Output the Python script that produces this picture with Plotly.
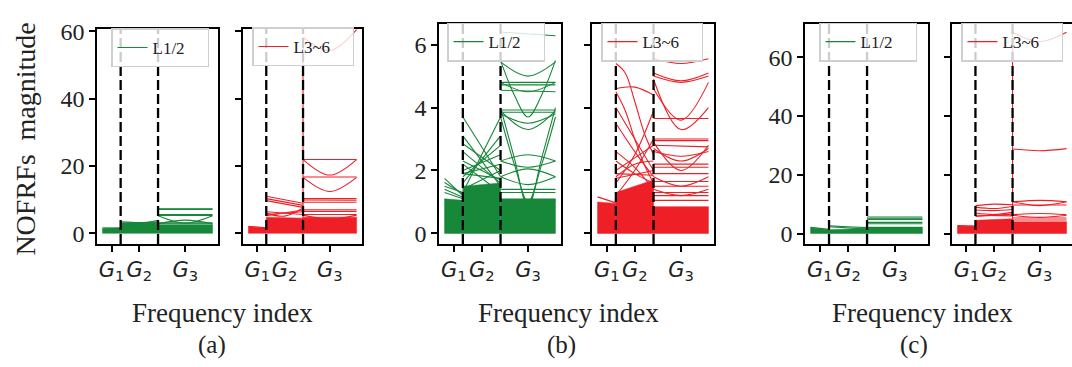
import plotly.graph_objects as go

# ---------------- data ----------------
# frequency-index regions: G1, G2, G3 (edges), tick centers and labels
REGION_EDGES = [0, 16.5, 50.5, 100]
TICK_POS = [8.25, 33.5, 75.25]
TICK_TEXT = ["<i>G</i><sub>1</sub>", "<i>G</i><sub>2</sub>", "<i>G</i><sub>3</sub>"]
SERIES_NAMES = ["L1/2", "L3~6"]

# Each line: values evenly spaced across its region. Each band: top edge (start, end), bottom at 0.
# ---- (a) L1/2
A1_G1_BAND = [1.4, 1.7]
A1_G1_LINES = [[1.6, 1.5]]
A1_G2_BAND = [3.1, 3.3]
A1_G2_LINES = [[1.6, 3.9], [3.4, 3.2, 3.4], [2.6, 2.9]]
A1_G3_BAND = [2.5, 2.5]
A1_G3_LINES = [[7.3, 7.3], [7.1, 7.1], [5.6, 5.6], [5.3, 5.3], [5.2, 3.0, 5.2],
               [2.8, 3.9, 2.8], [3.1, 3.1], [2.8, 2.8]]
# ---- (a) L3~6
A2_G1_BAND = [2.0, 1.6]
A2_G1_LINES = [[2.1, 1.6]]
A2_G2_BAND = [4.8, 4.5]
A2_G2_LINES = [[11.0, 8.9], [10.3, 8.3], [9.7, 7.7], [6.0, 5.1, 7.5], [5.6, 6.4],
               [5.2, 6.9], [6.4, 5.6]]
A2_G3_BAND = [4.8, 4.8]
A2_G3_LINES = [[21.9, 21.9], [21.9, 17.3, 21.9], [16.7, 16.7], [16.6, 12.4, 16.6],
               [10.3, 10.3], [9.9, 9.8], [9.2, 9.2], [7.0, 7.0], [6.5, 6.5],
               [5.6, 5.6], [5.4, 4.2, 5.4], [58.2, 54.3, 60.5]]
A2_JUMP = [2.0, 58.2]
# ---- (b) L1/2
B1_G1_BAND = [1.1, 1.05]
B1_G1_LINES = [[1.75, 1.2], [1.62, 1.25], [1.5, 1.3], [1.4, 1.15], [1.3, 1.1]]
B1_G2_BAND = [1.5, 1.6]
B1_G2_LINES = [[3.7, 1.8], [3.1, 1.5], [2.85, 2.0], [2.6, 1.6], [2.2, 1.3],
               [1.3, 3.7], [1.6, 3.1], [1.8, 2.8], [2.0, 2.5], [1.9, 2.2],
               [1.4, 2.0], [2.3, 1.7], [1.9, 1.75]]
B1_G3_BAND = [1.1, 1.1]
B1_G3_LINES = [[6.4, 6.28], [5.5, 4.4, 3.7, 4.4, 5.5], [5.45, 5.0, 5.45],
               [4.8, 4.8], [4.72, 4.72], [4.55, 4.5], [4.8, 4.5, 4.8],
               [3.92, 3.92], [3.85, 3.85], [3.9, 3.3, 3.9], [3.8, 3.5, 3.8],
               [4.0, 2.4, 0.85, 2.4, 4.0], [3.7, 2.2, 1.0, 2.2, 3.7],
               [2.3, 2.5, 2.3], [2.3, 2.1, 2.3], [1.8, 2.05, 1.8], [1.8, 1.55, 1.8],
               [1.4, 1.4], [1.3, 1.3], [1.05, 0.85, 1.05]]
# ---- (b) L3~6
B2_G1_BAND = [1.0, 0.95]
B2_G1_LINES = [[1.16, 0.97]]
B2_G2_BAND = [1.3, 1.7]
B2_G2_LINES = [[5.4, 5.1, 4.2, 3.2, 2.5], [4.6, 4.65, 4.4], [4.5, 3.9, 3.0, 2.2, 1.6],
               [4.0, 3.0, 2.0], [3.5, 2.6, 1.8], [1.6, 2.5, 3.9], [1.2, 2.0, 3.0],
               [2.0, 2.4, 2.8], [2.3, 1.9, 1.6], [2.6, 2.1, 1.4], [1.8, 2.2, 2.3],
               [1.9, 1.85], [1.75, 2.0]]
B2_G3_BAND = [0.85, 0.85]
B2_G3_LINES = [[5.55, 5.4, 5.55], [5.1, 4.85, 5.1], [5.0, 4.8, 5.0], [4.9, 3.3, 4.0],
               [4.6, 3.6, 4.8], [3.65, 3.65], [3.0, 3.0], [2.95, 2.95], [2.8, 2.75],
               [2.9, 2.0, 2.8], [2.7, 2.3, 2.7], [2.6, 2.45, 2.6], [2.2, 2.2],
               [2.1, 2.1], [1.9, 1.9], [1.8, 1.5, 1.8], [1.65, 1.65], [1.5, 1.5],
               [1.4, 1.2, 1.4], [1.3, 1.3], [1.2, 1.2], [1.05, 1.05]]
# ---- (c) L1/2
C1_G1_BAND = [2.0, 1.3]
C1_G1_LINES = [[2.1, 1.4]]
C1_G2_BAND = [1.3, 1.7]
C1_G2_LINES = [[2.6, 2.3, 2.0], [2.3, 1.5]]
C1_G3_BAND = [2.2, 2.2]
C1_G3_LINES = [[5.6, 5.6], [5.2, 5.2], [4.8, 4.8], [3.8, 3.8], [3.3, 3.3]]
# ---- (c) L3~6
C2_G1_BAND = [2.6, 2.5]
C2_G1_LINES = [[2.7, 2.5]]
C2_G2_BAND = [4.5, 5.0]
C2_G2_LINES = [[9.5, 10.0, 9.8], [9.0, 8.5, 9.2], [8.0, 7.8, 8.2], [7.0, 6.5, 7.2],
               [6.2, 6.0], [5.8, 6.6]]
C2_G3_BAND = [4.0, 4.0]
C2_G3_LINES = [[68.5, 65.3, 68.5], [28.8, 28.2, 28.9], [10.8, 11.3, 10.8],
               [10.8, 9.5, 10.8], [9.7, 9.7], [6.4, 6.8, 6.4], [6.2, 5.5, 6.2],
               [5.3, 5.3], [4.6, 4.6]]
C2_JUMP = [4.0, 68.5]

Y_RANGES = {"a": [-3.2, 60.7], "b": [-0.34, 6.67], "c": [-3.6, 71.5]}
Y_TICKS = {"a": [0, 20, 40, 60], "b": [0, 2, 4, 6], "c": [0, 20, 40, 60]}

PANELS = [
    ("a", 0, [A1_G1_BAND, A1_G2_BAND, A1_G3_BAND], [A1_G1_LINES, A1_G2_LINES, A1_G3_LINES], None),
    ("a", 1, [A2_G1_BAND, A2_G2_BAND, A2_G3_BAND], [A2_G1_LINES, A2_G2_LINES, A2_G3_LINES], A2_JUMP),
    ("b", 0, [B1_G1_BAND, B1_G2_BAND, B1_G3_BAND], [B1_G1_LINES, B1_G2_LINES, B1_G3_LINES], None),
    ("b", 1, [B2_G1_BAND, B2_G2_BAND, B2_G3_BAND], [B2_G1_LINES, B2_G2_LINES, B2_G3_LINES], None),
    ("c", 0, [C1_G1_BAND, C1_G2_BAND, C1_G3_BAND], [C1_G1_LINES, C1_G2_LINES, C1_G3_LINES], None),
    ("c", 1, [C2_G1_BAND, C2_G2_BAND, C2_G3_BAND], [C2_G1_LINES, C2_G2_LINES, C2_G3_LINES], C2_JUMP),
]

# ---------------- layout (pixel geometry) ----------------
W, H = 1072, 367
COLORS = ["#17873a", "#ee1f26"]
PX_X = [(97, 218), (243, 362), (439, 561), (592, 714), (805, 928), (952, 1074)]
PX_TOP = {"a": 19.5, "b": 14, "c": 14}
PX_BOTTOM = 242
LEGEND_PX = [(111, 19), (252, 18), (447, 13), (601, 13), (819, 13), (961, 13)]

SERIF = "Liberation Serif"
fig = go.Figure()
layout = dict(width=W, height=H, margin=dict(l=0, r=0, t=0, b=0),
              paper_bgcolor="white", plot_bgcolor="white", shapes=[], annotations=[])

for i, (grp, s, bands, lines_by_region, jump) in enumerate(PANELS):
    n = i + 1
    suf = "" if n == 1 else str(n)
    xa, ya = "x" + suf, "y" + suf
    color = COLORS[s]
    leg = "legend" + suf
    # dense bands
    for r, band in enumerate(bands):
        x0, x1 = REGION_EDGES[r], REGION_EDGES[r + 1]
        fig.add_trace(go.Scatter(x=[x0, x1, x1, x0, x0], y=[band[0], band[1], 0, 0, band[0]],
                                 fill="toself", fillcolor=color, mode="lines",
                                 line=dict(color=color, width=0.5), xaxis=xa, yaxis=ya,
                                 showlegend=False, hoverinfo="skip"))
    # individual lines
    xs, ys = [], []
    for r, lines in enumerate(lines_by_region):
        x0, x1 = REGION_EDGES[r], REGION_EDGES[r + 1]
        for ln in lines:
            k = len(ln)
            xs += [x0 + (x1 - x0) * j / (k - 1) for j in range(k)] + [None]
            ys += list(ln) + [None]
    if jump is not None:
        xs += [REGION_EDGES[2], REGION_EDGES[2], None]
        ys += [jump[0], jump[1], None]
    fig.add_trace(go.Scatter(x=xs, y=ys, mode="lines",
                             name=SERIES_NAMES[s] + "\u00a0\u00a0\u00a0\u00a0",
                             line=dict(color=color, width=1.1, shape="spline", smoothing=1),
                             connectgaps=False, xaxis=xa, yaxis=ya, legend=leg,
                             showlegend=True, hoverinfo="skip"))
    # axes
    px0, px1 = PX_X[i]
    d0 = px0 / W
    d1 = min(px1 / W, 1.0)
    yd0 = 1 - PX_BOTTOM / H
    yd1 = 1 - PX_TOP[grp] / H
    axis_common = dict(showline=True, linecolor="black", linewidth=1.6, ticks="outside",
                       ticklen=6, tickwidth=1.6, tickcolor="black", showgrid=False,
                       zeroline=False)
    layout["xaxis" + suf] = dict(
        domain=[d0, d1], anchor=ya, range=[-5, 105], tickvals=TICK_POS, ticktext=TICK_TEXT,
        tickangle=0, tickfont=dict(family="DejaVu Sans", size=21, color="#222"),
        mirror=True, **axis_common)
    layout["yaxis" + suf] = dict(
        domain=[yd0, yd1], anchor=xa, range=Y_RANGES[grp], tickvals=Y_TICKS[grp],
        showticklabels=(s == 0), tickfont=dict(family=SERIF, size=24, color="#222"),
        mirror=(n != 6), **axis_common)
    # dashed region separators
    for e in REGION_EDGES[1:3]:
        layout["shapes"].append(dict(type="line", xref=xa, yref=f"{ya} domain", x0=e, x1=e,
                                     y0=0, y1=1, line=dict(color="black", width=2.3,
                                                           dash="10px,4px")))
    lx, ly = LEGEND_PX[i]
    layout[leg] = dict(x=lx / W, y=1 - ly / H, xanchor="left", yanchor="top",
                       bgcolor="rgba(255,255,255,0.8)", bordercolor="#cfcfcf", borderwidth=1.5,
                       font=dict(family=SERIF, size=17, color="#222"),
                       itemwidth=30, tracegroupgap=0)


def ann(text, px, py, size, angle=0, family=SERIF):
    layout["annotations"].append(dict(text=text, x=px / W, y=1 - py / H, xref="paper",
                                      yref="paper", showarrow=False, textangle=angle,
                                      font=dict(family=family, size=size, color="#222"),
                                      xanchor="center", yanchor="middle"))


ann("NOFRFs  magnitude", 26, 134, 28, angle=-90)
for txt, cx in [("Frequency index", 222), ("Frequency index", 568), ("Frequency index", 922)]:
    ann(txt, cx, 313, 27)
for txt, cx in [("(a)", 212), ("(b)", 561), ("(c)", 914)]:
    ann(txt, cx, 346, 25)

fig.update_layout(**layout)
fig.write_html("out.html")
